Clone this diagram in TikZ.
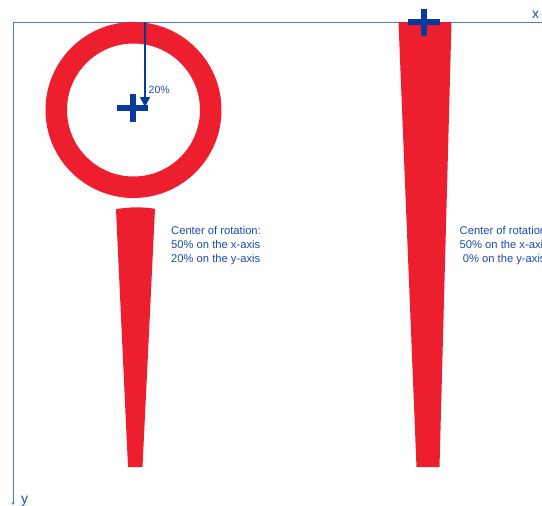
\documentclass[tikz,border=0pt]{standalone}
\usepackage{fontspec}
\setmainfont{Liberation Sans}
\usetikzlibrary{arrows.meta}
\definecolor{needlered}{RGB}{237,31,46}
\definecolor{markblue}{RGB}{8,58,158}
\definecolor{axisblue}{RGB}{80,120,205}
\definecolor{textblue}{RGB}{25,75,175}
\tikzset{
  axisline/.style={draw=axisblue, line width=0.8pt},
  redshape/.style={fill=needlered, draw=none},
  plusmark/.style={draw=markblue, line width=5.5pt},
  note/.style={text=textblue, font=\fontsize{11.2}{14}\selectfont, align=left, anchor=north west, inner sep=0pt},
  axislabel/.style={text=textblue, font=\fontsize{14}{14}\selectfont, inner sep=0pt}
}
\begin{document}
\begin{tikzpicture}[x=1pt,y=-1pt]
\useasboundingbox (0,0) rectangle (542,506);
\begin{scope}
\clip (0,0) rectangle (542,506);
% axes
\coordinate (origin) at (13,22);
\coordinate (xend) at (545,22);
\coordinate (yend) at (13,505);
\draw[axisline] (origin) -- (xend);
\draw[axisline, -{Stealth[length=3pt,width=3pt]}] (origin) -- (yend);
\node[axislabel, anchor=base] (xlab) at (535.5,18.5) {x};
\node[axislabel, anchor=base] (ylab) at (24.5,503) {y};
% ring
\fill[redshape, even odd rule] (133.5,110) circle[radius=88] (133.5,110) circle[radius=66.5];
% left needle
\fill[redshape] (116,209.3) .. controls (128,206.8) and (143,206.8) .. (155,208.8) -- (142.5,467) -- (128,467) -- cycle;
% right needle
\fill[redshape] (398.5,22) -- (451.5,22) -- (439.5,467) -- (416.5,467) -- cycle;
% left plus
\coordinate (lc) at (133,108);
\draw[plusmark] ([xshift=-16pt]lc) -- ([xshift=15pt]lc);
\draw[plusmark] ([yshift=-14pt]lc) -- ([yshift=14pt]lc);
% right plus
\coordinate (rc) at (424,22);
\draw[plusmark] ([xshift=-16pt]rc) -- ([xshift=16pt]rc);
\draw[plusmark] ([yshift=-14pt]rc) -- ([yshift=13pt]rc);
% 20% arrow
\coordinate (atop) at (145,22);
\coordinate (abot) at (145,107);
\draw[draw=markblue, line width=1.5pt, -{Triangle[length=10pt,width=10pt]}] (atop) -- (abot);
\node[text=textblue, font=\fontsize{10.5}{12}\selectfont, anchor=base west, inner sep=0pt] (pct) at (148.5,93) {20\%};
% notes
\node[note] (noteA) at (171,226) {Center of rotation:\\50\% on the x-axis\\20\% on the y-axis};
\node[note] (noteB) at (459.5,226) {Center of rotation:\\50\% on the x-axis\\\ 0\% on the y-axis};
\end{scope}
\end{tikzpicture}
\end{document}
